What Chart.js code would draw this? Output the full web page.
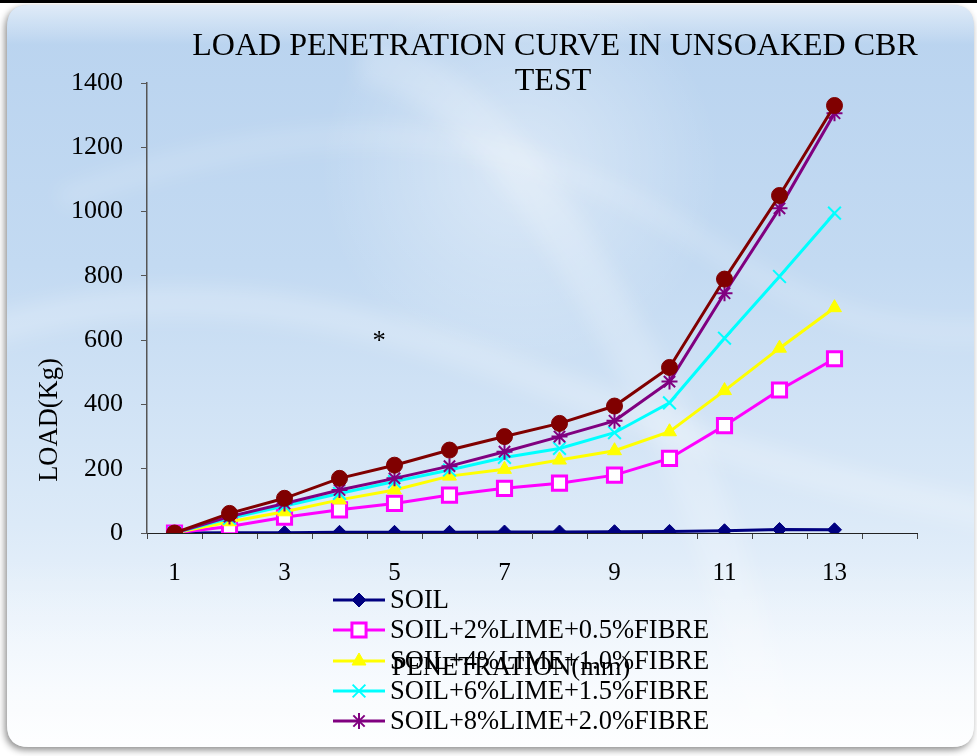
<!DOCTYPE html>
<html>
<head>
<meta charset="utf-8">
<script src="https://cdn.jsdelivr.net/npm/chart.js"></script>
<style>
  html, body { margin: 0; padding: 0; background: #ffffff; overflow: hidden; }
  #wrap { width: 977px; height: 756px; position: relative; }
</style>
</head>
<body>
<div id="wrap"><canvas id="cbr" width="977" height="756"></canvas></div>
<script>
// Penetration readings (mm) along the x axis; the last slot is left empty
const penetration = ['1', '2', '3', '4', '5', '6', '7', '8', '9', '10', '11', '12', '13', '14'];

// Load (Kg) for each mix
const soil      = [0, 1, 1, 2, 2, 2, 3, 3, 4, 5, 7, 11, 10];
const lime2     = [0, 20, 49, 72, 92, 118, 139, 155, 180, 232, 334, 445, 542];
const lime4     = [0, 35, 66, 103, 134, 177, 198, 227, 256, 315, 443, 575, 701];
const lime6     = [0, 46, 84, 123, 160, 196, 235, 263, 312, 405, 606, 798, 995];
const lime8     = [0, 51, 92, 134, 170, 208, 253, 300, 349, 471, 746, 1010, 1306];
const lime10    = [0, 61, 108, 170, 211, 258, 300, 341, 395, 515, 790, 1050, 1330];

const seriesNames = [
  'SOIL',
  'SOIL+2%LIME+0.5%FIBRE',
  'SOIL+4%LIME+1.0%FIBRE',
  'SOIL+6%LIME+1.5%FIBRE',
  'SOIL+8%LIME+2.0%FIBRE',
  'SOIL+10%LIME+2.5%FIBRE'
];

// Load axis ticks
const loadTicks = [0, 200, 400, 600, 800, 1000, 1200, 1400];

const chartTitle = ['LOAD PENETRATION CURVE IN UNSOAKED CBR', 'TEST'];
const xTitle = 'PENETRATION(mm)';
const yTitle = 'LOAD(Kg)';

const SERIF = "'Liberation Serif', 'Times New Roman', serif";

function series(label, data, color, style, radius, fill, pointBorder, order) {
  return {
    label: label,
    data: data,
    borderColor: color,
    backgroundColor: color,
    borderWidth: 3,
    pointStyle: style,
    pointRadius: radius,
    pointHoverRadius: radius,
    pointBackgroundColor: fill,
    pointBorderColor: color,
    pointBorderWidth: pointBorder,
    tension: 0,
    fill: false,
    order: order
  };
}

const datasets = [
  series(seriesNames[0], soil,   '#000080', 'rectRot',  7,  '#000080', 1,   5),
  series(seriesNames[1], lime2,  '#FF00FF', 'rect',     10, '#FFFFFF', 3,   4),
  series(seriesNames[2], lime4,  '#FFFF00', 'triangle', 8,  '#FFFF00', 1,   3),
  series(seriesNames[3], lime6,  '#00FFFF', 'crossRot', 9,  '#00FFFF', 2,   2),
  series(seriesNames[4], lime8,  '#800080', 'star',     8,  '#800080', 2,   1),
  series(seriesNames[5], lime10, '#800000', 'circle',   8,  '#800000', 1,   0)
];

// Rounded panel with a soft blue wash and pale swirls behind the plot
const panelBackground = {
  id: 'panelBackground',
  beforeDraw(chart) {
    const c = chart.ctx;
    const W = chart.width, H = chart.height;
    c.save();
    c.fillStyle = '#ffffff';
    c.fillRect(0, 0, W, H);
    c.fillStyle = '#000000';
    c.fillRect(0, 0, W, 3);

    const x0 = 7, y0 = 5, x1 = 974, y1 = 747, r = 22;
    const panel = new Path2D();
    panel.moveTo(x0 + r, y0);
    panel.lineTo(x1 - r, y0);
    panel.quadraticCurveTo(x1, y0, x1, y0 + r);
    panel.lineTo(x1, y1 - r);
    panel.quadraticCurveTo(x1, y1, x1 - r, y1);
    panel.lineTo(x0 + r, y1);
    panel.quadraticCurveTo(x0, y1, x0, y1 - r);
    panel.lineTo(x0, y0 + r);
    panel.quadraticCurveTo(x0, y0, x0 + r, y0);
    panel.closePath();

    c.shadowColor = 'rgba(0,0,0,0.45)';
    c.shadowBlur = 7;
    c.shadowOffsetX = -2;
    c.shadowOffsetY = 3;
    const g = c.createLinearGradient(0, y0, 0, y1);
    g.addColorStop(0, '#b9d3ef');
    g.addColorStop(0.35, '#c3daf2');
    g.addColorStop(0.7, '#dceaf8');
    g.addColorStop(1, '#fbfdff');
    c.fillStyle = g;
    c.fill(panel);
    c.shadowColor = 'transparent';

    c.clip(panel);
    // top highlight
    const hl = c.createLinearGradient(0, y0, 0, y0 + 40);
    hl.addColorStop(0, 'rgba(255,255,255,0.55)');
    hl.addColorStop(1, 'rgba(255,255,255,0)');
    c.fillStyle = hl;
    c.fillRect(x0, y0, x1 - x0, 40);

    // pale glow in the upper middle
    const glow = c.createRadialGradient(520, 170, 10, 520, 170, 200);
    glow.addColorStop(0, 'rgba(255,255,255,0.4)');
    glow.addColorStop(1, 'rgba(255,255,255,0)');
    c.fillStyle = glow;
    c.fillRect(250, 0, 560, 420);

    // soft sweeping bands
    c.filter = 'blur(10px)';
    c.lineCap = 'butt';
    c.strokeStyle = 'rgba(255,255,255,0.22)';
    c.lineWidth = 30;
    c.beginPath();
    c.moveTo(-40, 340);
    c.bezierCurveTo(250, 240, 480, 360, 700, 440);
    c.bezierCurveTo(820, 480, 920, 500, 1020, 520);
    c.stroke();

    c.strokeStyle = 'rgba(255,255,255,0.2)';
    c.lineWidth = 46;
    c.beginPath();
    c.moveTo(360, 60);
    c.bezierCurveTo(470, 70, 560, 220, 620, 330);
    c.bezierCurveTo(680, 430, 740, 560, 780, 800);
    c.stroke();

    c.strokeStyle = 'rgba(255,255,255,0.16)';
    c.lineWidth = 22;
    c.beginPath();
    c.moveTo(60, 200);
    c.bezierCurveTo(300, 110, 500, 110, 700, 240);
    c.bezierCurveTo(820, 320, 900, 340, 1020, 330);
    c.stroke();
    c.filter = 'none';

    const low = c.createLinearGradient(0, 560, 0, 747);
    low.addColorStop(0, 'rgba(255,255,255,0)');
    low.addColorStop(1, 'rgba(255,255,255,0.6)');
    c.fillStyle = low;
    c.fillRect(x0, 560, x1 - x0, 190);
    c.restore();
  }
};

function drawMarker(c, ds, x, y) {
  const opts = { pointStyle: ds.pointStyle, rotation: 0, radius: ds.pointRadius, borderWidth: ds.pointBorderWidth };
  c.save();
  c.fillStyle = ds.pointBackgroundColor;
  c.strokeStyle = ds.pointBorderColor;
  c.lineWidth = ds.pointBorderWidth;
  if (Chart.helpers && Chart.helpers.drawPoint) {
    Chart.helpers.drawPoint(c, opts, x, y);
  } else {
    c.beginPath();
    c.arc(x, y, ds.pointRadius, 0, Math.PI * 2);
    c.fill();
    c.stroke();
  }
  c.restore();
}

// Titles, axis captions and the series key
const captions = {
  id: 'captions',
  afterDraw(chart) {
    const c = chart.ctx;
    c.save();
    c.fillStyle = '#000000';
    c.textAlign = 'center';
    c.textBaseline = 'middle';
    c.font = '32px ' + SERIF;
    c.fillText(chartTitle[0], 555, 47);
    c.fillText(chartTitle[1], 553, 82);

    c.font = '26.5px ' + SERIF;
    c.save();
    c.translate(50, 420);
    c.rotate(-Math.PI / 2);
    c.fillText(yTitle, 0, 0);
    c.restore();

    c.textBaseline = 'alphabetic';
    c.fillText('*', 379, 349);

    // key: first five series
    const rows = [600, 630, 661, 691, 721];
    for (let i = 0; i < 5; i++) {
      const ds = chart.data.datasets[i];
      const y = rows[i];
      c.save();
      c.strokeStyle = ds.borderColor;
      c.lineWidth = 3;
      c.beginPath();
      c.moveTo(333, y);
      c.lineTo(385, y);
      c.stroke();
      c.restore();
      drawMarker(c, ds, 359, y);
      c.fillStyle = '#000000';
      c.textAlign = 'left';
      c.textBaseline = 'middle';
      c.font = '26.5px ' + SERIF;
      c.fillText(ds.label, 390, y + 1);
    }

    c.textAlign = 'center';
    c.textBaseline = 'middle';
    c.fillText(xTitle, 511, 668);
    c.restore();
  }
};

new Chart(document.getElementById('cbr'), {
  type: 'line',
  data: { labels: penetration, datasets: datasets },
  options: {
    responsive: false,
    animation: false,
    devicePixelRatio: 1,
    layout: { padding: { left: 0, top: 83, right: 60, bottom: 0 } },
    plugins: {
      legend: { display: false },
      title: { display: false },
      tooltip: { enabled: false }
    },
    scales: {
      x: {
        type: 'category',
        offset: true,
        grid: { offset: true, drawOnChartArea: false, drawTicks: true, tickLength: 6, color: '#444444', lineWidth: 1 },
        border: { display: true, color: '#222222', width: 1 },
        ticks: {
          autoSkip: false,
          maxRotation: 0,
          padding: 19,
          color: '#000000',
          font: { family: SERIF, size: 25 },
          callback: function (value, index) {
            return (index % 2 === 0 && index < 13) ? penetration[index] : '';
          }
        },
        afterFit(scale) { scale.height = 223; }
      },
      y: {
        min: loadTicks[0],
        max: loadTicks[loadTicks.length - 1],
        afterBuildTicks(scale) { scale.ticks = loadTicks.map(v => ({ value: v })); },
        grid: { drawOnChartArea: false, drawTicks: true, tickLength: 6, color: '#555555', lineWidth: 1 },
        border: { display: true, color: '#555555', width: 1.5 },
        ticks: {
          padding: 18,
          color: '#000000',
          font: { family: SERIF, size: 26 },
          callback: function (value) { return String(value); }
        },
        afterFit(scale) { scale.width = 147; }
      }
    }
  },
  plugins: [panelBackground, captions]
});
</script>
</body>
</html>
